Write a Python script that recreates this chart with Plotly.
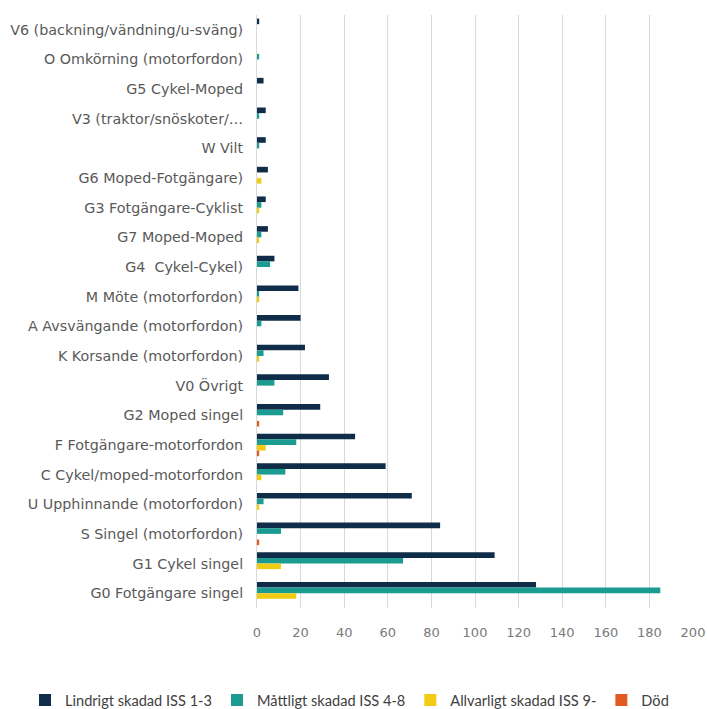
import plotly.graph_objects as go

categories = [
    "V6 (backning/vändning/u-sväng)",
    "O Omkörning (motorfordon)",
    "G5 Cykel-Moped",
    "V3 (traktor/snöskoter/…",
    "W Vilt",
    "G6 Moped-Fotgängare)",
    "G3 Fotgängare-Cyklist",
    "G7 Moped-Moped",
    "G4  Cykel-Cykel)",
    "M Möte (motorfordon)",
    "A Avsvängande (motorfordon)",
    "K Korsande (motorfordon)",
    "V0 Övrigt",
    "G2 Moped singel",
    "F Fotgängare-motorfordon",
    "C Cykel/moped-motorfordon",
    "U Upphinnande (motorfordon)",
    "S Singel (motorfordon)",
    "G1 Cykel singel",
    "G0 Fotgängare singel",
]

lindrigt = [1, 0, 3, 4, 4, 5, 4, 5, 8, 19, 20, 22, 33, 29, 45, 59, 71, 84, 109, 128]
mattligt = [0, 1, 0, 1, 1, 0, 2, 2, 6, 1, 2, 3, 8, 12, 18, 13, 3, 11, 67, 185]
allvarligt = [0, 0, 0, 0, 0, 2, 1, 1, 0, 1, 0, 1, 0, 0, 4, 2, 1, 0, 11, 18]
dod = [0, 0, 0, 0, 0, 0, 0, 0, 0, 0, 0, 0, 0, 1, 1, 0, 0, 1, 0, 0]

series_names = ["Lindrigt skadad ISS 1-3", "Måttligt skadad ISS 4-8", "Allvarligt skadad ISS 9-", "Död"]
series_values = [lindrigt, mattligt, allvarligt, dod]
colors = ["#0f2c48", "#1c9c90", "#f2cc12", "#e05a22"]

x_ticks = [0, 20, 40, 60, 80, 100, 120, 140, 160, 180, 200]

fig = go.Figure()
for name, vals, col in zip(series_names, series_values, colors):
    fig.add_trace(go.Bar(
        y=categories, x=vals, name=name, orientation="h",
        marker=dict(color=col, line=dict(width=0)),
    ))

W, H = 707, 709
ML, MR, MT, MB = 257, 14, 15, 101
plot_w = W - ML - MR
plot_h = H - MT - MB

fig.update_layout(
    barmode="group",
    bargap=0.24,
    bargroupgap=0,
    width=W, height=H,
    margin=dict(l=ML, r=MR, t=MT, b=MB, autoexpand=False),
    paper_bgcolor="white",
    plot_bgcolor="white",
    font=dict(family="DejaVu Sans", size=12, color="#595959"),
    legend=dict(
        orientation="h", xref="paper", x=(25 - ML) / plot_w, xanchor="left",
        yref="paper", y=-(700 - (MT + plot_h)) / plot_h, yanchor="middle",
        font=dict(family="Lato", size=14.6, color="#404040"),
        traceorder="normal",
        itemwidth=30,
    ),
    xaxis=dict(
        range=[0, 200], tickvals=x_ticks, showgrid=True, gridcolor="#d9d9d9",
        gridwidth=1, zeroline=False, showline=False, ticks="",
        ticklabelstandoff=15,
        tickfont=dict(family="DejaVu Sans", size=13, color="#7a7a7a"),
    ),
    yaxis=dict(
        autorange="reversed", showgrid=False, showline=True, linecolor="#d9d9d9",
        linewidth=1, ticks="", ticklabelstandoff=10,
        tickfont=dict(size=14.3, color="#595959"),
    ),
)

fig.write_html("out.html", config={"displayModeBar": False},
               post_script="document.body.style.margin='0';")
